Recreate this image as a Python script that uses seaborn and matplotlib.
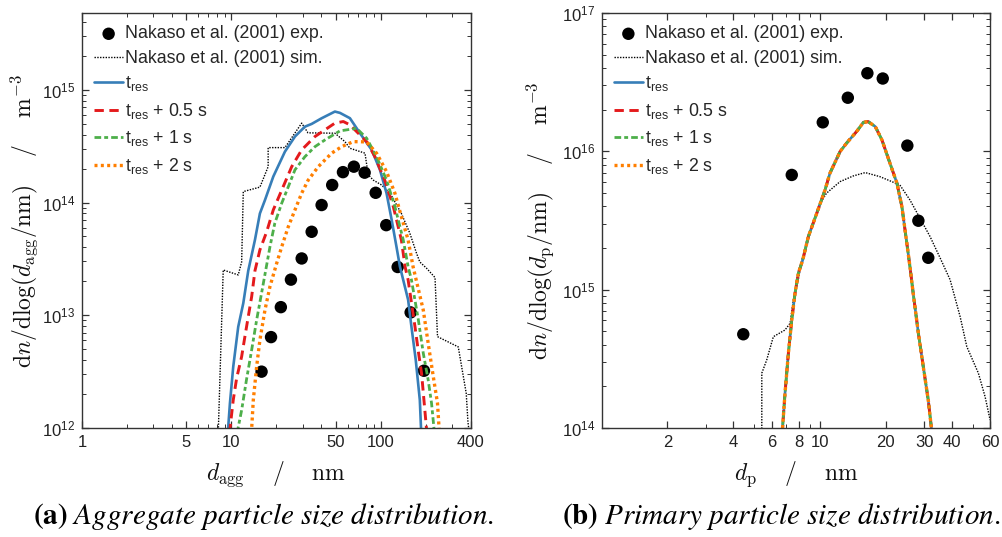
import matplotlib
matplotlib.use("Agg")
import matplotlib.pyplot as plt
import seaborn as sns
from matplotlib.ticker import LogLocator, NullFormatter, FixedLocator

# ---------------- data ----------------
# (a) aggregate particle size distribution
agg_exp_d = [15.9, 18.4, 21.4, 25.0, 29.5, 34.4, 40.1, 47.2, 55.7, 65.9, 77.8, 92.2, 108.5, 129.4, 158, 194]
agg_exp_n = [3.16e12, 6.4e12, 1.18e13, 2.07e13, 3.19e13, 5.5e13, 9.5e13, 1.43e14, 1.86e14, 2.08e14,
             1.84e14, 1.22e14, 6.3e13, 2.68e13, 1.06e13, 3.22e12]

agg_sim_d = [8.16, 8.81, 11.1, 11.7, 12.0, 15.5, 17.6, 17.6, 22.8, 29.5, 32.5, 49.2, 57.4, 62, 78.2, 82.2,
             88.9, 101, 115, 137, 156, 173, 182, 202, 230, 239, 329, 372, 382, 390]
agg_sim_n = [9e11, 2.52e13, 2.28e13, 2.97e13, 1.25e14, 1.37e14, 2.08e14, 3.07e14, 3.07e14, 5.06e14, 4.15e14,
             4.12e14, 3.47e14, 3.03e14, 2.74e14, 1.76e14, 1.58e14, 1.43e14, 1.21e14, 8.0e13, 5.35e13, 3.55e13,
             2.97e13, 2.61e13, 2.16e13, 6.46e12, 5.24e12, 2.03e12, 1.13e12, 9e11]

agg_t0_d = [9.45, 9.77, 10.28, 11.1, 12.0, 12.95, 14.36, 15.5, 16.75, 19.05, 22.8, 26.6, 31.0, 34.4, 40.1, 49.2,
            53.2, 62.0, 72.4, 86.7, 98.5, 109, 118, 127, 134, 152, 160, 171, 182, 186]
agg_t0_n = [9e11, 1.66e12, 3.5e12, 7.9e12, 1.28e13, 2.48e13, 4.66e13, 8.0e13, 1.05e14, 1.70e14, 2.83e14, 3.85e14,
            4.71e14, 4.98e14, 5.59e14, 6.41e14, 6.24e14, 5.6e14, 4.12e14, 2.93e14, 1.95e14, 1.21e14, 7.0e13,
            4.06e13, 2.70e13, 1.37e13, 7.9e12, 4.0e12, 1.77e12, 9e11]

agg_t05_d = [9.7, 10.28, 10.83, 11.7, 12.3, 12.95, 13.65, 14.36, 15.5, 17.2, 19.05, 21.7, 25.3, 29.5, 36.2, 49.2,
             56, 62, 80.2, 91.2, 106, 121, 137, 145, 152, 169, 178, 187, 197, 203]
agg_t05_n = [9e11, 1.77e12, 2.76e12, 4.3e12, 6.46e12, 9.7e12, 1.46e13, 2.48e13, 3.8e13, 5.5e13, 8.6e13, 1.29e14,
             2.08e14, 2.93e14, 3.85e14, 5.06e14, 5.23e14, 4.89e14, 3.47e14, 2.55e14, 1.58e14, 9.2e13, 4.66e13,
             2.7e13, 2.06e13, 7.9e12, 4.75e12, 3.05e12, 1.4e12, 9e11]

agg_t1_d = [10.9, 11.7, 12.6, 13.65, 14.74, 15.9, 17.2, 18.1, 19.5, 21.7, 24.0, 26.6, 31.0, 36.2, 42.2, 53.2,
            68.8, 80.2, 93.5, 109, 124, 141, 152, 160, 178, 192, 207, 218, 228]
agg_t1_n = [9e11, 1.44e12, 2.67e12, 4.92e12, 9.08e12, 1.57e13, 2.79e13, 4.06e13, 6.55e13, 9.87e13, 1.38e14,
            1.95e14, 2.55e14, 3.13e14, 3.59e14, 4.32e14, 4.55e14, 3.72e14, 2.55e14, 1.58e14, 9.2e13, 4.66e13,
            2.7e13, 2.06e13, 9.08e12, 4.6e12, 2.67e12, 1.66e12, 9e11]

agg_t2_d = [13.6, 14.0, 14.74, 15.5, 16.75, 18.1, 20.1, 21.7, 24.0, 26.6, 29.5, 32.6, 38.1, 46.8, 54.6, 65.3,
            80.2, 93.5, 109, 124, 137, 152, 164, 192, 207, 224, 239, 246]
agg_t2_n = [9e11, 1.77e12, 3.5e12, 6.04e12, 1.11e13, 1.8e13, 2.91e13, 4.06e13, 6.1e13, 8.6e13, 1.21e14, 1.58e14,
            2.08e14, 2.74e14, 3.13e14, 3.47e14, 3.45e14, 2.74e14, 1.88e14, 1.21e14, 7.5e13, 4.66e13, 2.7e13,
            1.11e13, 5.65e12, 2.85e12, 1.66e12, 9e11]

# (b) primary particle size distribution
pp_exp_d = [4.45, 7.42, 10.29, 13.4, 16.47, 19.37, 25.1, 28.2, 31.3]
pp_exp_n = [4.76e14, 6.75e15, 1.62e16, 2.44e16, 3.67e16, 3.36e16, 1.10e16, 3.15e15, 1.70e15]

pp_sim_d = [5.41, 5.41, 5.70, 6.11, 6.91, 7.29, 7.55, 7.95, 8.25, 9.82, 10.7, 12.35, 14.2, 16.1, 18.8, 23.2,
            25.8, 28.7, 31.9, 35.5, 39.4, 43.8, 47.0, 53.1, 57.0, 60.1]
pp_sim_n = [9e13, 2.49e14, 3.11e14, 4.57e14, 5.11e14, 5.71e14, 8.43e14, 1.18e15, 1.64e15, 3.98e15, 4.98e15,
            6.04e15, 6.64e15, 7.02e15, 6.56e15, 5.71e15, 4.45e15, 3.28e15, 2.42e15, 1.69e15, 1.18e15, 6.38e14,
            3.87e14, 2.49e14, 1.68e14, 1.14e14]

pp_t_d = [6.7, 6.91, 7.16, 7.42, 7.68, 7.95, 8.33, 8.84, 9.66, 10.54, 11.1, 12.35, 13.25, 14.7, 15.8, 16.6,
          17.9, 19.2, 20.9, 22.5, 23.7, 24.5, 25.8, 26.7, 28.2, 29.7, 31.3, 32.6]
pp_t0_n = [9e13, 1.78e14, 3.47e14, 6.04e14, 9.42e14, 1.31e15, 1.64e15, 2.42e15, 3.57e15, 5.26e15, 6.95e15,
           9.96e15, 1.15e16, 1.39e16, 1.62e16, 1.64e16, 1.51e16, 1.21e16, 8.2e15, 5.88e15, 3.98e15, 2.70e15,
           1.47e15, 9.42e14, 4.84e14, 2.77e14, 1.59e14, 9e13]
pp_t05_n = list(pp_t0_n)
pp_t1_n = list(pp_t0_n)
pp_t2_n = list(pp_t0_n)

legend_labels = ["Nakaso et al. (2001) exp.", "Nakaso et al. (2001) sim.",
                 r"$\mathregular{t_{res}}$",
                 r"$\mathregular{t_{res}}$ + 0.5 s",
                 r"$\mathregular{t_{res}}$ + 1 s",
                 r"$\mathregular{t_{res}}$ + 2 s"]

agg_xticks = [1, 5, 10, 50, 100, 400]
pp_xticks = [2, 4, 6, 8, 10, 20, 30, 40, 60]

# ---------------- style ----------------
sns.set_theme(style="ticks")
plt.rcParams['font.family'] = ['Liberation Sans', 'DejaVu Sans']
plt.rcParams['mathtext.fontset'] = 'cm'
plt.rcParams['axes.edgecolor'] = '#333333'
plt.rcParams['axes.linewidth'] = 1.0

pal = sns.color_palette("Set1")
c_red, c_blue, c_green, c_orange = pal[0], pal[1], pal[2], pal[4]

series_styles = [
    dict(color=c_blue, lw=1.9, linestyle='-'),
    dict(color=c_red, lw=2.1, linestyle=(0, (3.2, 1.9))),
    dict(color=c_green, lw=2.0, linestyle=(0, (2.4, 1.1, 1.4, 1.1))),
    dict(color=c_orange, lw=2.4, linestyle=(0, (0.9, 1.0))),
]

fig = plt.figure(figsize=(10.02, 5.37), dpi=100)
axL = fig.add_axes([0.0818, 0.2030, 0.3882, 0.7728])
axR = fig.add_axes([0.6005, 0.2030, 0.3875, 0.7728])


def draw(ax, exp_d, exp_n, sim_d, sim_n, ser_d, ser_ns):
    sns.scatterplot(x=exp_d, y=exp_n, ax=ax, color='black', s=80, edgecolor='none',
                    label=legend_labels[0], zorder=1)
    sns.lineplot(x=sim_d, y=sim_n, ax=ax, estimator=None, sort=False, color='black', lw=1.0,
                 linestyle=(0, (1, 1)), label=legend_labels[1])
    for i, (d, n) in enumerate(zip(ser_d, ser_ns)):
        sns.lineplot(x=d, y=n, ax=ax, estimator=None, sort=False, label=legend_labels[2 + i],
                     **series_styles[i])
    ax.set_xscale('log')
    ax.set_yscale('log')
    h, l = ax.get_legend_handles_labels()
    order = [l.index(s) for s in legend_labels]
    ax.legend([h[i] for i in order], [l[i] for i in order], loc='upper left', frameon=False,
              fontsize=12.8, handlelength=1.6, handletextpad=0.12, labelspacing=0.42,
              borderaxespad=0.3, borderpad=0.4)
    ax.tick_params(which='both', direction='in', top=True, right=True, labelsize=12,
                   color='#333333', labelcolor='#222222')
    ax.tick_params(which='major', length=5, width=0.9, pad=5)
    ax.tick_params(which='minor', length=3, width=0.7)


draw(axL, agg_exp_d, agg_exp_n, agg_sim_d, agg_sim_n,
     [agg_t0_d, agg_t05_d, agg_t1_d, agg_t2_d], [agg_t0_n, agg_t05_n, agg_t1_n, agg_t2_n])
draw(axR, pp_exp_d, pp_exp_n, pp_sim_d, pp_sim_n,
     [pp_t_d] * 4, [pp_t0_n, pp_t05_n, pp_t1_n, pp_t2_n])

axL.set_xlim(1, 400)
axL.set_ylim(1e12, 4.8e15)
axL.set_xticks(agg_xticks, [str(t) for t in agg_xticks])
axL.xaxis.set_minor_locator(LogLocator(base=10, subs=range(2, 10)))
axL.xaxis.set_minor_formatter(NullFormatter())
axL.yaxis.set_major_locator(FixedLocator([1e12, 1e13, 1e14, 1e15]))
axL.yaxis.set_minor_locator(LogLocator(base=10, subs=range(2, 10)))
axL.yaxis.set_minor_formatter(NullFormatter())

axR.set_xlim(1, 60)
axR.set_ylim(1e14, 1e17)
axR.set_xticks(pp_xticks, [str(t) for t in pp_xticks])
axR.xaxis.set_minor_locator(LogLocator(base=10, subs=range(2, 10)))
axR.xaxis.set_minor_formatter(NullFormatter())
axR.yaxis.set_major_locator(FixedLocator([1e14, 1e15, 1e16, 1e17]))
axR.yaxis.set_minor_locator(LogLocator(base=10, subs=range(2, 10)))
axR.yaxis.set_minor_formatter(NullFormatter())

lab_kw = dict(fontsize=17, color='#111111', math_fontfamily='cm')
axL.set_xlabel(r'$d_\mathrm{agg}\quad\ /\quad\ \mathrm{nm}$', **lab_kw)
axL.set_ylabel(r'$\mathrm{d}n/\mathrm{dlog}(d_\mathrm{agg}/\mathrm{nm})\quad\ /\quad\ \mathrm{m}^{-3}$', **lab_kw)
axR.set_xlabel(r'$d_\mathrm{p}\quad\ /\quad\ \mathrm{nm}$', **lab_kw)
axR.set_ylabel(r'$\mathrm{d}n/\mathrm{dlog}(d_\mathrm{p}/\mathrm{nm})\quad\ /\quad\ \mathrm{m}^{-3}$', **lab_kw)
axL.xaxis.set_label_coords(0.5, -0.075)
axR.xaxis.set_label_coords(0.5, -0.075)
axL.yaxis.set_label_coords(-0.108, 0.5)
axR.yaxis.set_label_coords(-0.118, 0.5)

cap_kw = dict(fontsize=21, ha='center', va='center', math_fontfamily='stix', color='black')
fig.text(263.5 / 1002, 1 - 517 / 537,
         r'$\mathbf{(a)}\ \mathit{Aggregate\ particle\ size\ distribution.}$', **cap_kw)
fig.text(781 / 1002, 1 - 517 / 537,
         r'$\mathbf{(b)}\ \mathit{Primary\ particle\ size\ distribution.}$', **cap_kw)

fig.savefig("out.png", dpi=100)
